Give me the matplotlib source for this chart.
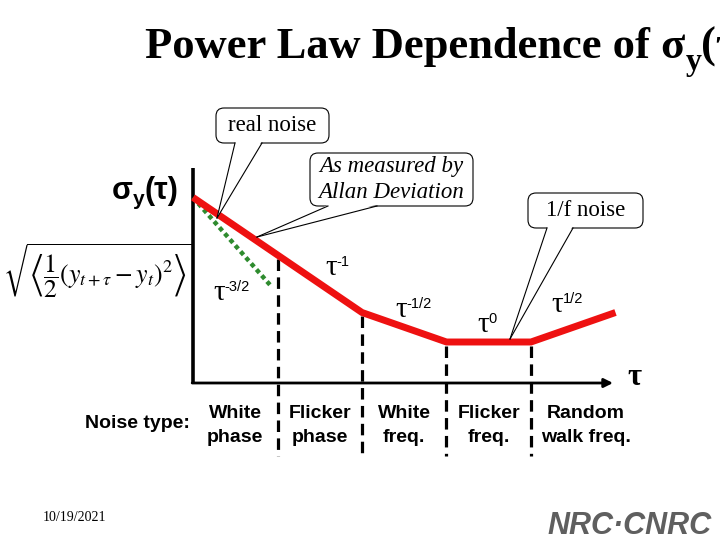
import matplotlib
matplotlib.use('Agg')
import matplotlib.pyplot as plt
import numpy as np
from matplotlib.transforms import Affine2D, blended_transform_factory
from matplotlib.patches import FancyBboxPatch, Polygon

# ---------------- data (log10 tau, log10 sigma, schematic units) ----------------
log_tau_meas = [0, 2, 3, 4, 5]
log_sigma_meas = [3.95, 2.0, 1.5, 1.5, 2.0]
log_tau_real = [0, 0.91]
log_sigma_real = [3.95, 2.47]
region_bounds = [1, 2, 3, 4]
slope_exponents = ['-3/2', '-1', '-1/2', '0', '1/2']
noise_line1 = ['White', 'Flicker', 'White', 'Flicker', 'Random']
noise_line2 = ['phase', 'phase', 'freq.', 'freq.', 'walk freq.']
noise_centers = [0.5, 1.5, 2.5, 3.5, 4.65]

# ---------------- layout ----------------
W, H = 720, 540
X0, DX = 193.0, 84.5      # pixel of log_tau=0, pixels per decade
Y0, DY = 342.0, 59.0      # pixel of log_sigma=1.5, pixels per unit

fig = plt.figure(figsize=(7.2, 5.4), dpi=100)
fig.patch.set_facecolor('white')
ax = fig.add_axes([0, 0, 1, 1])
ax.set_xlim(-X0 / DX, (W - X0) / DX)
ax.set_ylim(1.5 - (H - Y0) / DY, 1.5 + Y0 / DY)
ax.axis('off')

tpix = Affine2D().scale(1 / W, -1 / H).translate(0, 1) + fig.transFigure
tmix = blended_transform_factory(ax.transData, tpix)

def py2y(p):
    return 1.5 - (p - Y0) / DY

# axes
y_axis_bottom = py2y(383)
ax.plot([0, 0], [y_axis_bottom, py2y(168)], color='black', lw=2.6, solid_capstyle='butt', zorder=3)
ax.annotate('', xy=((613 - X0) / DX, y_axis_bottom), xytext=(-0.01, y_axis_bottom),
            arrowprops=dict(arrowstyle='-|>', color='black', lw=2.0, mutation_scale=13,
                            shrinkA=0, shrinkB=0), zorder=3)

# region boundaries
for b in region_bounds:
    top = np.interp(b, log_tau_meas, log_sigma_meas) - 0.06
    ax.plot([b, b], [top, py2y(456)], color='black', lw=2.3, ls=(0, (3.6, 2.0)), zorder=2)

# real noise (dotted green) and measured (red)
ax.plot(log_tau_real, log_sigma_real, color='#2e8b2e', lw=3.2, ls=(0, (1, 0.8)), zorder=4)
ax.plot(log_tau_meas, log_sigma_meas, color='#ee1111', lw=5.0, solid_joinstyle='miter',
        solid_capstyle='butt', zorder=5)

# callouts
def callout(x0, y0, x1, y1, bl, br, tip, lines, **kw):
    box = FancyBboxPatch((x0, y0), x1 - x0, y1 - y0, boxstyle='round,pad=0,rounding_size=8',
                         transform=tpix, fc='white', ec='black', lw=0.8, zorder=6)
    ax.add_patch(box)
    wedge = Polygon([(bl + 0.6, y1 - 1.2), (br - 0.6, y1 - 1.2), tip], closed=True,
                    transform=tpix, fc='white', ec='none', zorder=7)
    ax.add_patch(wedge)
    ax.plot([bl, tip[0]], [y1, tip[1]], color='black', lw=0.8, transform=tpix, zorder=7)
    ax.plot([br, tip[0]], [y1, tip[1]], color='black', lw=0.8, transform=tpix, zorder=7)
    ax.text((x0 + x1) / 2, (y0 + y1) / 2, lines, transform=tpix, ha='center', va='center',
            zorder=8, **kw)

callout(216, 108, 329, 143, 235, 262, (217, 218), 'real noise',
        family='Liberation Serif', size=16.5)
callout(310, 153, 473, 206, 328, 377, (257, 237), 'As measured by\nAllan Deviation',
        family='Liberation Serif', style='italic', size=16.5, linespacing=1.3)
callout(528, 193, 643, 228, 547, 573, (510, 339), '1/f noise',
        family='Liberation Serif', size=16.5)

# need renderer for composed texts
fig.canvas.draw()
rend = fig.canvas.get_renderer()

def compose(x, y, pieces):
    for s, dy, kw in pieces:
        t = ax.text(x, y + dy, s, transform=tpix, ha='left', va='baseline', zorder=9, **kw)
        x += t.get_window_extent(renderer=rend).width
    return x

# title
tkw = dict(family='Liberation Serif', weight='bold', size=32)
compose(145, 58, [('Power Law Dependence of \u03c3', 0, tkw),
                  ('y', 12, dict(family='Liberation Serif', weight='bold', size=23)),
                  ('(\u03c4)', 0, tkw)])

# sigma_y(tau) label
skw = dict(family='Liberation Sans', weight='bold', size=22)
compose(112, 199, [('\u03c3', 0, skw),
                   ('y', 6, dict(family='Liberation Sans', weight='bold', size=15)),
                   ('(\u03c4)', 0, skw)])

# Allan variance formula
ax.text(3, 271, r'$\sqrt{\left\langle\dfrac{1}{2}\left(y_{t+\tau}-y_t\right)^2\right\rangle}$',
        transform=tpix, ha='left', va='center', size=18.5, math_fontfamily='stix')

# slope labels
slope_pos = [(213, 300), (325, 275), (395, 317), (477, 332), (551, 312)]
for (px, pyy), e in zip(slope_pos, slope_exponents):
    compose(px, pyy, [('\u03c4', 0, dict(family='Liberation Serif', size=21)),
                      (e, -9, dict(family='Liberation Sans', size=10.5))])

# tau axis label
ax.text(627, 385, '\u03c4', transform=tpix, ha='left', va='baseline',
        family='Liberation Serif', weight='bold', size=22)

# noise types
ax.text(190, 423, 'Noise type:', transform=tpix, ha='right', va='center',
        family='Liberation Sans', weight='bold', size=14)
for xc, l1, l2 in zip(noise_centers, noise_line1, noise_line2):
    ax.text(xc, 413, l1, transform=tmix, ha='center', va='center',
            family='Liberation Sans', weight='bold', size=14)
    ax.text(xc, 438, l2, transform=tmix, ha='center', va='center',
            family='Liberation Sans', weight='bold', size=14)

# footer
ax.text(43, 521, '10/19/2021', transform=tpix, ha='left', va='baseline',
        family='Liberation Serif', size=10)
ax.text(547, 534, 'NRC\u00b7CNRC', transform=tpix, ha='left', va='baseline',
        family='Liberation Sans', weight='bold', style='italic', size=22, color='#5f5f5f')

fig.savefig('out.png', dpi=100, facecolor='white')
